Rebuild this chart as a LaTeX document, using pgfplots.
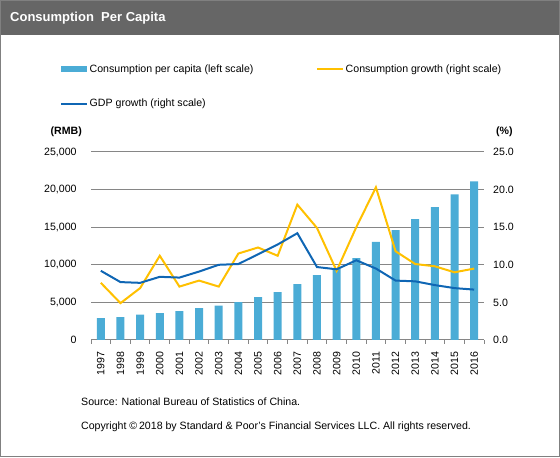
\documentclass[border=0pt]{standalone}
\usepackage{pgfplots}
\pgfplotsset{compat=1.18}
\usepackage{fontspec}
\setmainfont{Liberation Sans}
\definecolor{barblue}{HTML}{4BACD6}
\definecolor{lineyel}{HTML}{FFC000}
\definecolor{lineblue}{HTML}{0F66B4}
\definecolor{gridgray}{HTML}{868686}
\definecolor{titlegray}{HTML}{666666}
\definecolor{framegray}{HTML}{808080}
\begin{document}
\begin{tikzpicture}[x=1bp,y=1bp]
\fontsize{10.6bp}{12bp}\selectfont
\path[use as bounding box] (0,0) rectangle (560,458);
\fill[titlegray] (0,423) rectangle (560,458);
\draw[framegray, line width=1bp] (0.5,1) rectangle (559.5,457.5);
\node[anchor=west, text=white, font=\fontsize{13bp}{15bp}\selectfont\bfseries, inner sep=0] at (10,440) {Consumption\ \ Per Capita};
\node[anchor=west, inner sep=0] at (81,56) {Source: National Bureau of Statistics of China.};
\node[anchor=west, inner sep=0] at (81,31) {Copyright \textcopyright\,2018 by Standard \& Poor's Financial Services LLC. All rights reserved.};

\begin{axis}[
  at={(91bp,118bp)}, anchor=south west,
  scale only axis, width=393bp, height=188bp,
  xmin=-0.5, xmax=19.5, ymin=0, ymax=25000,
  axis x line*=bottom, axis y line*=left,
  x axis line style={gridgray, line width=1bp, -},
  y axis line style={draw=none},
  xtick={0,...,19},
  xticklabels={1997,1998,1999,2000,2001,2002,2003,2004,2005,2006,2007,2008,2009,2010,2011,2012,2013,2014,2015,2016},
  major x tick style={draw=none},
  minor xtick={-0.5,0.5,...,19.5},
  minor x tick style={gridgray, line width=1bp},
  minor tick length=4bp,
  tick align=outside,
  xticklabel style={rotate=90, anchor=east, inner sep=0pt, yshift=0bp, xshift=-7bp},
  ytick={0,5000,...,25000},
  ytick style={draw=none},
  yticklabel style={inner sep=0pt, xshift=-10bp},
  ymajorgrids, grid style={gridgray, line width=1bp},
  scaled y ticks=false,
  /pgf/number format/.cd, 1000 sep={,}, assume math mode=true,
  /pgfplots/.cd,
  tick label style={font=\fontsize{10.6bp}{12bp}\selectfont},
  legend style={at={(-31bp,277bp)}, anchor=north west, draw=none, fill=none, inner sep=0pt,
    font=\fontsize{10.6bp}{12bp}\selectfont, row sep=22bp,
    nodes={inner sep=1.5bp}},
  legend cell align=left,
  clip=false,
]
\addplot[ybar, bar width=8bp, fill=barblue, draw=none,
  legend image code/.code={\fill[barblue] (0bp,-3bp) rectangle (26bp,3bp);}]
  coordinates {(0,2920) (1,3053) (2,3363) (3,3584) (4,3850) (5,4248) (6,4558) (7,5044) (8,5708) (9,6372)
  (10,7434) (11,8628) (12,9500) (13,10900) (14,13053) (15,14602) (16,16062) (17,17655) (18,19380) (19,21106)};
\addlegendentry{Consumption per capita (left scale)}
\addlegendimage{legend image code/.code={\draw[lineblue, line width=2bp] (0bp,0bp) -- (26bp,0bp);}}
\addlegendentry{GDP growth (right scale)}
\node[anchor=base east, inner sep=0, font=\fontsize{10.6bp}{12bp}\selectfont\bfseries] at (rel axis cs:0,1) [xshift=-9bp, yshift=17bp] {(RMB)};
\end{axis}

\begin{axis}[
  at={(91bp,118bp)}, anchor=south west,
  scale only axis, width=393bp, height=188bp,
  xmin=-0.5, xmax=19.5, ymin=0, ymax=25,
  axis x line=none, axis y line*=right,
  y axis line style={draw=none},
  ytick={0,5,...,25},
  ytick style={draw=none},
  yticklabel style={inner sep=0pt, xshift=9bp, /pgf/number format/.cd, fixed, fixed zerofill, precision=1},
  /pgf/number format/.cd, assume math mode=true,
  /pgfplots/.cd,
  tick label style={font=\fontsize{10.6bp}{12bp}\selectfont},
  legend style={at={(225bp,277bp)}, anchor=north west, draw=none, fill=none, inner sep=0pt,
    font=\fontsize{10.6bp}{12bp}\selectfont, nodes={inner sep=1.5bp}},
  legend cell align=left,
  clip=false,
]
\addplot[lineyel, line width=2bp, mark=none,
  legend image code/.code={\draw[lineyel, line width=2bp] (0bp,0bp) -- (26bp,0bp);}]
  coordinates {(0,7.6) (1,4.9) (2,6.9) (3,11.2) (4,7.1) (5,7.9) (6,7.1) (7,11.5) (8,12.3) (9,11.2)
  (10,18.0) (11,14.9) (12,9.2) (13,15.0) (14,20.3) (15,11.8) (16,10.1) (17,9.8) (18,9.0) (19,9.5)};
\addlegendentry{Consumption growth (right scale)}
\addplot[lineblue, line width=2bp, mark=none, forget plot]
  coordinates {(0,9.2) (1,7.7) (2,7.6) (3,8.4) (4,8.3) (5,9.1) (6,10.0) (7,10.1) (8,11.4) (9,12.7)
  (10,14.2) (11,9.7) (12,9.4) (13,10.6) (14,9.5) (15,7.9) (16,7.8) (17,7.3) (18,6.9) (19,6.7)};
\node[anchor=base west, inner sep=0, font=\fontsize{10.6bp}{12bp}\selectfont\bfseries] at (rel axis cs:1,1) [xshift=12bp, yshift=17bp] {(\%)};
\end{axis}
\end{tikzpicture}
\end{document}
